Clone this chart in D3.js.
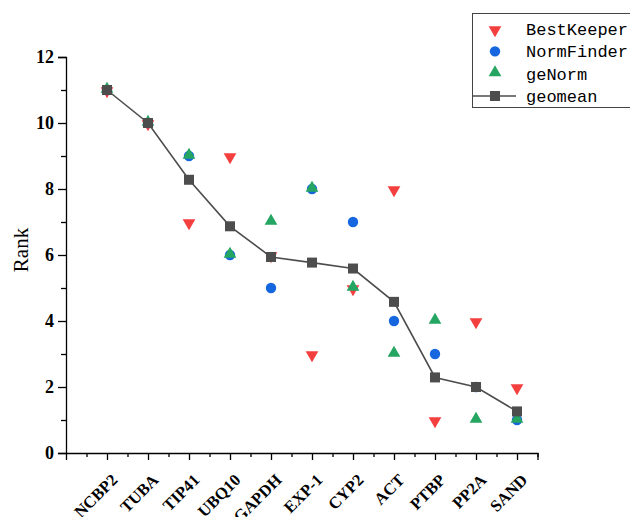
<!DOCTYPE html>
<html lang="en">
<head>
<meta charset="utf-8">
<title>Rank of reference genes</title>
<script src="https://d3js.org/d3.v7.min.js"></script>
<style>
  body { margin: 0; background: #fff; }
</style>
</head>
<body>
<script>
// genes and their rank in each method
var genes = ["NCBP2", "TUBA", "TIP41", "UBQ10", "GAPDH", "EXP-1", "CYP2", "ACT", "PTBP", "PP2A", "SAND"];
var bestKeeper = [11, 10, 7, 9, 6, 3, 5, 8, 1, 4, 2];
var normFinder = [11, 10, 9, 6, 5, 8, 7, 4, 3, 2, 1];
var geNorm     = [11, 10, 9, 6, 7, 8, 5, 3, 4, 1, 1];
var geomean    = [11, 10, 8.28, 6.87, 5.94, 5.77, 5.59, 4.58, 2.29, 2.00, 1.26];
var yTicks = [0, 2, 4, 6, 8, 10, 12];

var width = 630, height = 517;
var red = "#f43f3f", blue = "#1666e0", green = "#24a561", grey = "#4d4d4d";

var svg = d3.select("body").append("svg")
    .attr("width", width)
    .attr("height", height);

var x = d3.scaleLinear().domain([0, 11.5]).range([66, 537.5]);
var y = d3.scaleLinear().domain([0, 12]).range([453, 57]);

// y axis
var yAxis = svg.append("g")
    .attr("transform", "translate(66,0)")
    .call(d3.axisLeft(y).tickValues(yTicks).tickSize(8).tickPadding(4));
svg.append("g")
    .attr("transform", "translate(66,0)")
    .call(d3.axisLeft(y).tickValues([1, 3, 5, 7, 9, 11]).tickSize(5).tickFormat(""))
    .select(".domain").remove();

yAxis.selectAll("text")
    .style("font-family", "'Liberation Serif', serif")
    .style("font-weight", "bold")
    .style("font-size", "18px")
    .attr("fill", "#000");

// x axis
var xAxis = svg.append("g")
    .attr("transform", "translate(0,453)")
    .call(d3.axisBottom(x)
      .tickValues(d3.range(1, 12))
      .tickSize(7)
      .tickFormat(function(d) { return genes[d - 1]; }));
svg.append("g")
    .attr("transform", "translate(0,453)")
    .call(d3.axisBottom(x).tickValues(d3.range(0.5, 12, 1)).tickSize(4).tickFormat(""))
    .select(".domain").remove();

xAxis.selectAll("text")
    .style("font-family", "'Liberation Serif', serif")
    .style("font-weight", "bold")
    .style("font-size", "16.5px")
    .attr("fill", "#000")
    .attr("text-anchor", "end")
    .attr("dy", null)
    .attr("y", null)
    .attr("transform", "translate(11,28) rotate(-45)");

svg.selectAll(".domain, .tick line").attr("stroke", "#000").attr("stroke-width", 1.3);

// y label
svg.append("text")
    .attr("transform", "translate(28,250) rotate(-90)")
    .attr("text-anchor", "middle")
    .style("font-family", "'Liberation Serif', serif")
    .style("font-size", "21px")
    .text("Rank");

var triDown = d3.symbol().type(d3.symbolTriangle).size(70);

// BestKeeper
svg.append("g").selectAll("path")
    .data(bestKeeper)
    .enter().append("path")
    .attr("d", triDown)
    .attr("transform", function(d, i) { return "translate(" + x(i + 1) + "," + (y(d) + 1) + ") rotate(180)"; })
    .attr("fill", red);

// NormFinder
svg.append("g").selectAll("circle")
    .data(normFinder)
    .enter().append("circle")
    .attr("cx", function(d, i) { return x(i + 1); })
    .attr("cy", function(d) { return y(d); })
    .attr("r", 5.2)
    .attr("fill", blue);

// geNorm
svg.append("g").selectAll("path")
    .data(geNorm)
    .enter().append("path")
    .attr("d", triDown)
    .attr("transform", function(d, i) { return "translate(" + x(i + 1) + "," + (y(d) - 1) + ")"; })
    .attr("fill", green);

// geomean line + squares
var line = d3.line()
    .x(function(d, i) { return x(i + 1); })
    .y(function(d) { return y(d); });

svg.append("path")
    .datum(geomean)
    .attr("d", line)
    .attr("fill", "none")
    .attr("stroke", grey)
    .attr("stroke-width", 1.6);

svg.append("g").selectAll("rect")
    .data(geomean)
    .enter().append("rect")
    .attr("x", function(d, i) { return x(i + 1) - 5; })
    .attr("y", function(d) { return y(d) - 5; })
    .attr("width", 10)
    .attr("height", 10)
    .attr("fill", grey);

// legend
var legend = svg.append("g");
legend.append("rect")
    .attr("x", 472.5).attr("y", 13.5)
    .attr("width", 170).attr("height", 94)
    .attr("fill", "#fff")
    .attr("stroke", "#444")
    .attr("stroke-width", 1);

var items = [
  { name: "BestKeeper", type: "down" },
  { name: "NormFinder", type: "circle" },
  { name: "geNorm", type: "up" },
  { name: "geomean", type: "square" }
];
var ly = d3.scalePoint().domain(items.map(function(d) { return d.name; })).range([29, 96]);

items.forEach(function(it) {
  var cy = ly(it.name);
  if (it.type == "down") {
    legend.append("path").attr("d", triDown)
      .attr("transform", "translate(495," + (cy + 1) + ") rotate(180)").attr("fill", red);
  } else if (it.type == "circle") {
    legend.append("circle").attr("cx", 495).attr("cy", cy).attr("r", 5.2).attr("fill", blue);
  } else if (it.type == "up") {
    legend.append("path").attr("d", triDown)
      .attr("transform", "translate(495," + (cy - 1) + ")").attr("fill", green);
  } else {
    legend.append("line").attr("x1", 473).attr("x2", 516).attr("y1", cy).attr("y2", cy)
      .attr("stroke", grey).attr("stroke-width", 1.6);
    legend.append("rect").attr("x", 490).attr("y", cy - 5).attr("width", 10).attr("height", 10).attr("fill", grey);
  }
  legend.append("text")
    .attr("x", 526).attr("y", cy + 6)
    .style("font-family", "'Liberation Mono', monospace")
    .style("font-size", "17px")
    .text(it.name);
});
</script>
</body>
</html>
